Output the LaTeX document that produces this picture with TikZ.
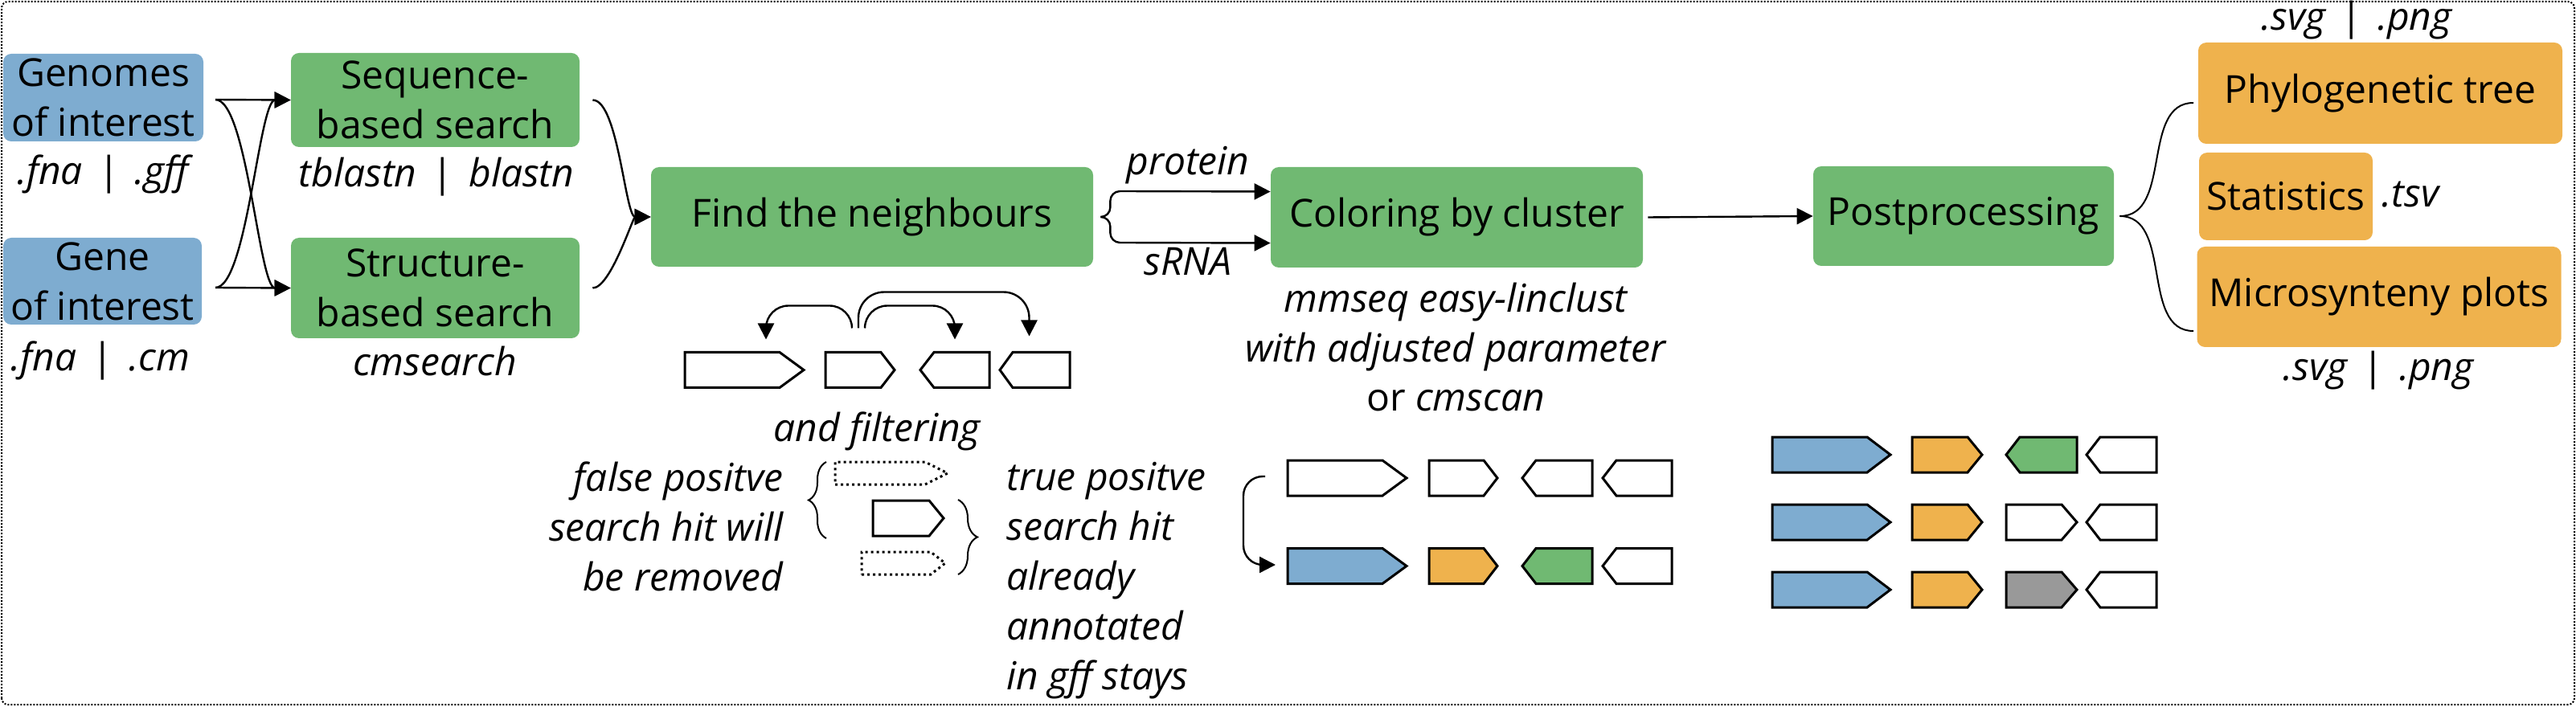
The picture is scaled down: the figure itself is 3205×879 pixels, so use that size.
\documentclass[tikz,border=0pt]{standalone}
\usepackage{fontspec}
\setmainfont{Open Sans}
\usetikzlibrary{arrows.meta,decorations.pathreplacing}

\definecolor{geneblue}{RGB}{126,172,208}
\definecolor{stepgreen}{RGB}{112,185,114}
\definecolor{outorange}{RGB}{239,178,77}
\definecolor{hitgrey}{RGB}{153,153,153}

\tikzstyle{line} = [draw, line width=1.2pt, -{Triangle[length=10pt,width=10pt]}]
\tikzstyle{curl} = [draw, line width=1pt]
\tikzstyle{inbox} = [rectangle, rounded corners=5pt, fill=geneblue, align=center, inner sep=0pt]
\tikzstyle{stepbox} = [rectangle, rounded corners=5pt, fill=stepgreen, align=center, inner sep=0pt]
\tikzstyle{outbox} = [rectangle, rounded corners=5pt, fill=outorange, align=center, inner sep=0pt]
\tikzstyle{lbl} = [inner sep=0pt, font=\itshape]
\tikzstyle{gbox} = [draw, line width=1.5pt, fill=white]

\newcommand{\fmtsep}{\hspace{0.4em}{\upshape|}\hspace{0.4em}}
% gene glyph: style, name, back end, body end, tip, centre, half height
\newcommand{\gene}[7]{%
  \draw[#1] (#3,#6-#7) -- (#4,#6-#7) -- (#5,#6) -- (#4,#6+#7) -- (#3,#6+#7) -- cycle;
  \coordinate (#2) at ({(#3+#5)/2},#6+#7);}

\begin{document}
\fontsize{24}{31}\selectfont
\begin{tikzpicture}[x=0.5pt, y=0.5pt]
\useasboundingbox (0,0) rectangle (3205,879);
\draw[line width=1pt, dash pattern=on 1pt off 1pt, rounded corners=4pt] (2,2) rectangle (3203,877);

% inputs and search
\node [inbox, minimum width=124.5pt, minimum height=54.5pt] (gen) at (128.5,757.5) {Genomes\\of interest};
\node [lbl, anchor=base] (genlbl) at (128,649) {.fna\fmtsep.gff};
\node [inbox, minimum width=123.5pt, minimum height=54pt] (gene) at (127.5,529) {Gene\\of interest};
\node [lbl, anchor=base] (genelbl) at (125,417) {.fna\fmtsep.cm};

\node [stepbox, minimum width=179.5pt, minimum height=58.5pt] (seq) at (541.5,754.5) {Sequence-\\based search};
\node [lbl, anchor=base] (seqlbl) at (543,646) {tblastn\fmtsep blastn};
\node [stepbox, minimum width=179.5pt, minimum height=62.5pt] (struct) at (541.5,520.5) {Structure-\\based search};
\node [lbl, anchor=base] (structlbl) at (541,411) {cmsearch};

\coordinate (genout) at (268,755);
\coordinate (geneout) at (268,521);
\draw [line] (genout) -- (seq.west);
\draw [line] (genout) to[out=0,in=180,looseness=0.4] (struct.west);
\draw [line] (geneout) -- (struct.west);
\draw [line] (geneout) to[out=0,in=180,looseness=0.4] (seq.west);

% neighbours
\node [stepbox, minimum width=275pt, minimum height=62pt] (find) at (1085,609) {Find the neighbours};
\draw [line] ([xshift=8pt]seq.east) to[out=0,in=180,looseness=0.5] (find.west);
\draw [line] ([xshift=8pt]struct.east) to[out=0,in=180,looseness=0.5] (find.west);

\gene{gbox}{g1}{852}{970}{1000}{418.5}{22}
\gene{gbox}{g2}{1027}{1096}{1113}{418.5}{22}
\gene{gbox}{g3}{1231}{1162}{1145}{418.5}{22}
\gene{gbox}{g4}{1331}{1260}{1244}{418.5}{22}
\draw [line, rounded corners=14pt] ([xshift=-5pt,yshift=15pt]g2) -- ++(0,28) -| ([xshift=13.5pt,yshift=8pt]g1);
\draw [line, rounded corners=14pt] ([xshift=3pt,yshift=15pt]g2) -- ++(0,28) -| ([yshift=8pt]g3);
\draw [line, rounded corners=16pt] ([xshift=-1pt,yshift=15pt]g2) -- ++(0,45) -| ([xshift=-3.5pt,yshift=10pt]g4);

\node [lbl, anchor=base] (filt) at (1091,329) {and filtering};
\gene{gbox, dotted}{f1}{1039}{1151}{1179}{290}{14}
\gene{gbox}{f2}{1086}{1156}{1174}{234}{22}
\gene{gbox, dotted}{f3}{1072}{1158}{1176}{178}{14}
\draw [curl, decorate, decoration={brace, amplitude=11pt}] (1028,209) -- (1028,304);
\draw [curl, decorate, decoration={brace, amplitude=12pt}] (1192,257) -- (1192,164);
\node [lbl, anchor=base east, align=right] (fplbl) at (975,144) {false positve\\search hit will\\be removed};
\node [lbl, anchor=base west, align=left] (tplbl) at (1252,21) {true positve\\search hit\\already\\annotated\\in gff stays};

% clustering
\node [stepbox, minimum width=231.5pt, minimum height=62.5pt] (col) at (1812.5,608.5) {Coloring by cluster};
\draw [line] ([xshift=4.5pt]find.east) to[out=0,in=-90] ++(12,12) -- ++(0,8) to[out=90,in=180] ++(12,12) -- ([yshift=16pt]col.west);
\draw [line] ([xshift=4.5pt]find.east) to[out=0,in=90] ++(12,-12) -- ++(0,-8) to[out=-90,in=180] ++(12,-12) -- ([yshift=-16pt]col.west);
\node [lbl, anchor=base] (protlbl) at (1478,661) {protein};
\node [lbl, anchor=base] (rnalbl) at (1478,536) {sRNA};
\node [lbl, anchor=base, align=center] (collbl) at (1811,367) {mmseq easy-linclust\\with adjusted parameter\\{\upshape or} cmscan};

\gene{gbox}{ca1}{1602}{1720}{1750}{284}{22}
\gene{gbox}{cb1}{1778}{1846}{1863}{284}{22}
\gene{gbox}{cc1}{1981}{1911}{1894}{284}{22}
\gene{gbox}{cd1}{2080}{2011}{1994}{284}{22}
\gene{gbox, fill=geneblue}{ca2}{1602}{1720}{1750}{174.5}{22}
\gene{gbox, fill=outorange}{cb2}{1778}{1846}{1863}{174.5}{22}
\gene{gbox, fill=stepgreen}{cc2}{1981}{1911}{1894}{174.5}{22}
\gene{gbox}{cd2}{2080}{2011}{1994}{174.5}{22}
\coordinate (cs) at (1574,286);
\coordinate (ce) at (1587,176);
\draw [line, rounded corners=12pt] (cs) -- ++(-27,0) -- ++(0,-110) -- (ce);

% postprocessing
\node [stepbox, minimum width=187pt, minimum height=62pt] (post) at (2443,610) {Postprocessing};
\draw [line] ([xshift=3pt]col.east) -- (post.west);

\node [outbox, minimum width=226.5pt, minimum height=63pt] (phylo) at (2961.5,763) {Phylogenetic tree};
\node [lbl, anchor=base] (phylolbl) at (2932,841) {.svg\fmtsep.png};
\node [outbox, minimum width=108pt, minimum height=54.5pt] (stats) at (2844,634.5) {Statistics};
\node [lbl, anchor=base west] (tsvlbl) at (2963,621) {.tsv};
\node [outbox, minimum width=226.5pt, minimum height=62.5pt] (micro) at (2960,509.5) {Microsynteny plots};
\node [lbl, anchor=base] (microlbl) at (2959,406) {.svg\fmtsep.png};

\coordinate (ptop) at (2729,751);
\coordinate (pbot) at (2729,467);
\draw [curl] ([xshift=3.5pt]post.east) to[out=0,in=180] (ptop);
\draw [curl] ([xshift=3.5pt]post.east) to[out=0,in=180] (pbot);

\gene{gbox, fill=geneblue}{pa1}{2205}{2323}{2352}{313}{22}
\gene{gbox, fill=outorange}{pb1}{2379}{2448}{2466}{313}{22}
\gene{gbox, fill=stepgreen}{pc1}{2584}{2513}{2496}{313}{22}
\gene{gbox}{pd1}{2683}{2613}{2596}{313}{22}
\gene{gbox, fill=geneblue}{pa2}{2205}{2323}{2352}{229}{22}
\gene{gbox, fill=outorange}{pb2}{2379}{2448}{2466}{229}{22}
\gene{gbox}{pc2}{2496}{2565}{2584}{229}{22}
\gene{gbox}{pd2}{2683}{2613}{2596}{229}{22}
\gene{gbox, fill=geneblue}{pa3}{2205}{2323}{2352}{145}{22}
\gene{gbox, fill=outorange}{pb3}{2379}{2448}{2466}{145}{22}
\gene{gbox, fill=hitgrey}{pc3}{2496}{2565}{2584}{145}{22}
\gene{gbox}{pd3}{2683}{2613}{2596}{145}{22}
\end{tikzpicture}
\end{document}
